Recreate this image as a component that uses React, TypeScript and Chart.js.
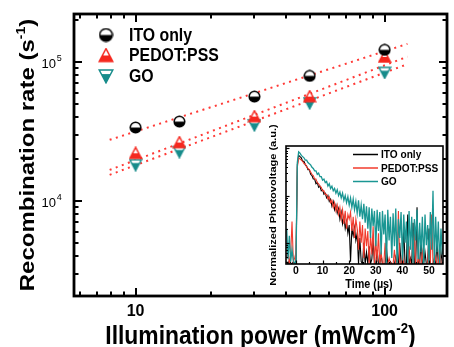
import React, { useEffect, useRef } from 'react';
import { Chart, registerables } from 'chart.js';

Chart.register(...registerables);

// ---------- main plot data ----------
const POWER = [10, 15, 30, 50, 100];
const ITO_RATE = [33700, 37200, 56300, 79300, 122000];
const PEDOT_RATE = [22000, 26300, 40400, 56300, 108600];
const GO_RATE = [18200, 22600, 35200, 50700, 84000];
const FIT_POWER = [7.87, 123.5];
const ITO_FIT = [27500, 134700];
const PEDOT_FIT = [16700, 109000];
const GO_FIT = [15400, 96300];
const SERIES_NAMES = ['ITO only', 'PEDOT:PSS', 'GO'];
const X_TICK_VALUES = [10, 100];
const X_TICK_LABELS = ['10', '100'];
const Y_TICK_VALUES = [1e4, 1e5];
const Y_TICK_EXPONENTS = ['4', '5'];

// ---------- inset data (time in µs, normalized photovoltage) ----------
const TIME = [
  -3.5, -3, -2.5, -2, -1.5, -1, -0.5, 0, 0.5, 1,
  1.5, 2, 2.5, 3, 3.5, 4, 4.5, 5, 5.5, 6,
  6.5, 7, 7.5, 8, 8.5, 9, 9.5, 10, 10.5, 11,
  11.5, 12, 12.5, 13, 13.5, 14, 14.5, 15, 15.5, 16,
  16.5, 17, 17.5, 18, 18.5, 19, 19.5, 20, 20.5, 21,
  21.5, 22, 22.5, 23, 23.5, 24, 24.5, 25, 25.5, 26,
  26.5, 27, 27.5, 28, 28.5, 29, 29.5, 30, 30.5, 31,
  31.5, 32, 32.5, 33, 33.5, 34, 34.5, 35, 35.5, 36,
  36.5, 37, 37.5, 38, 38.5, 39, 39.5, 40, 40.5, 41,
  41.5, 42, 42.5, 43, 43.5, 44, 44.5, 45, 45.5, 46,
  46.5, 47, 47.5, 48, 48.5, 49, 49.5, 50, 50.5, 51,
  51.5, 52, 52.5, 53, 53.5, 54, 54.5, 55,
];
const ITO_PV = [
  0.02, 0.0, 0.03, 0.01, 0.0, 0.02, 0.0, 0.03, 0.84, 0.92,
  0.91, 0.90, 0.87, 0.87, 0.84, 0.83, 0.80, 0.80, 0.76, 0.75,
  0.72, 0.72, 0.68, 0.69, 0.65, 0.66, 0.62, 0.63, 0.59, 0.60,
  0.56, 0.58, 0.53, 0.55, 0.49, 0.53, 0.46, 0.50, 0.43, 0.47,
  0.38, 0.44, 0.34, 0.40, 0.30, 0.36, 0.26, 0.33, 0.02, 0.30,
  0.24, 0.31, 0.20, 0.26, 0.0, 0.22, 0.02, 0.0, 0.18, 0.0,
  0.10, 0.0, 0.15, 0.0, 0.04, 0.20, 0.0, 0.0, 0.12, 0.0,
  0.0, 0.08, 0.0, 0.0, 0.0, 0.14, 0.0, 0.0, 0.02, 0.0,
  0.0, 0.0, 0.06, 0.0, 0.0, 0.18, 0.0, 0.0, 0.30, 0.0,
  0.0, 0.42, 0.0, 0.05, 0.0, 0.35, 0.0, 0.0, 0.48, 0.0,
  0.0, 0.22, 0.0, 0.0, 0.10, 0.0, 0.0, 0.30, 0.0, 0.0,
  0.0, 0.05, 0.0, 0.20, 0.0, 0.0, 0.10, 0.0,
];
const PEDOT_PV = [
  0.05, 0.12, 0.0, 0.08, 0.36, 0.02, 0.05, 0.10, 0.82, 0.90,
  0.89, 0.88, 0.87, 0.85, 0.85, 0.82, 0.81, 0.80, 0.78, 0.76,
  0.75, 0.72, 0.72, 0.69, 0.68, 0.66, 0.65, 0.62, 0.62, 0.59,
  0.59, 0.55, 0.57, 0.52, 0.54, 0.48, 0.52, 0.45, 0.50, 0.42,
  0.48, 0.38, 0.46, 0.34, 0.45, 0.30, 0.42, 0.38, 0.44, 0.28,
  0.40, 0.22, 0.38, 0.30, 0.12, 0.36, 0.18, 0.33, 0.05, 0.30,
  0.15, 0.28, 0.0, 0.25, 0.08, 0.32, 0.0, 0.20, 0.02, 0.26,
  0.0, 0.10, 0.0, 0.0, 0.18, 0.0, 0.0, 0.05, 0.0, 0.0,
  0.0, 0.12, 0.0, 0.0, 0.45, 0.0, 0.0, 0.08, 0.0, 0.0,
  0.0, 0.0, 0.15, 0.0, 0.0, 0.0, 0.28, 0.0, 0.0, 0.05,
  0.0, 0.0, 0.10, 0.0, 0.0, 0.0, 0.0, 0.20, 0.0, 0.42,
  0.0, 0.0, 0.06, 0.0, 0.0, 0.15, 0.0, 0.0,
];
const GO_PV = [
  0.30, 0.04, 0.24, 0.02, 0.12, 0.03, 0.0, 0.02, 0.86, 0.95,
  0.94, 0.92, 0.91, 0.90, 0.88, 0.88, 0.86, 0.85, 0.84, 0.82,
  0.81, 0.79, 0.79, 0.76, 0.77, 0.74, 0.74, 0.71, 0.72, 0.69,
  0.70, 0.66, 0.68, 0.64, 0.66, 0.62, 0.64, 0.60, 0.63, 0.58,
  0.61, 0.56, 0.60, 0.54, 0.58, 0.52, 0.57, 0.50, 0.56, 0.48,
  0.55, 0.46, 0.53, 0.43, 0.54, 0.40, 0.50, 0.38, 0.51, 0.35,
  0.49, 0.30, 0.48, 0.22, 0.47, 0.32, 0.45, 0.15, 0.46, 0.28,
  0.44, 0.08, 0.45, 0.25, 0.42, 0.0, 0.46, 0.20, 0.40, 0.05,
  0.43, 0.15, 0.47, 0.0, 0.38, 0.22, 0.44, 0.02, 0.42, 0.18,
  0.36, 0.0, 0.45, 0.12, 0.40, 0.0, 0.38, 0.20, 0.46, 0.04,
  0.35, 0.10, 0.40, 0.0, 0.42, 0.16, 0.33, 0.0, 0.44, 0.12,
  0.62, 0.0, 0.40, 0.10, 0.36, 0.0, 0.30, 0.08,
];
const INSET_X_TICKS = [0, 10, 20, 30, 40, 50];
const INSET_X_LABELS = ['0', '10', '20', '30', '40', '50'];

// ---------- styles ----------
const FONT = "'Liberation Sans', Arial, sans-serif";
const RED = '#f5281f';
const TEAL = '#178c8b';
const FIT_RED = '#ff3a36';
const INSET_RED = '#f23b2d';
const INSET_TEAL = '#1a9693';
const SX = 0.88;

type Piece = { t: string; size: number; raise?: number };

function drawPieces(ctx: CanvasRenderingContext2D, pieces: Piece[], cx: number, baseY: number, weight: string, sx: number, rotate: boolean) {
  ctx.save();
  ctx.translate(rotate ? baseY : cx, rotate ? cx : baseY);
  if (rotate) {
    ctx.rotate(-Math.PI / 2);
    ctx.scale(1, sx);
  } else {
    ctx.scale(sx, 1);
  }
  let total = 0;
  const widths = pieces.map((p) => {
    ctx.font = `${weight} ${p.size}px ${FONT}`;
    const w = ctx.measureText(p.t).width;
    total += w;
    return w;
  });
  let x = -total / 2;
  ctx.fillStyle = '#000';
  ctx.textBaseline = 'alphabetic';
  ctx.textAlign = 'left';
  pieces.forEach((p, i) => {
    ctx.font = `${weight} ${p.size}px ${FONT}`;
    ctx.fillText(p.t, x, -(p.raise || 0));
    x += widths[i];
  });
  ctx.restore();
}

function drawText(ctx: CanvasRenderingContext2D, s: string, x: number, y: number, font: string, align: CanvasTextAlign, sx: number, baseline: CanvasTextBaseline = 'middle') {
  ctx.save();
  ctx.translate(x, y);
  ctx.scale(sx, 1);
  ctx.font = font;
  ctx.textAlign = align;
  ctx.textBaseline = baseline;
  ctx.fillStyle = '#000';
  ctx.fillText(s, 0, 0);
  ctx.restore();
}

function makeMarker(kind: 'circle' | 'up' | 'down', size: number, color: string): HTMLCanvasElement {
  const c = document.createElement('canvas');
  c.width = size;
  c.height = size;
  const g = c.getContext('2d') as CanvasRenderingContext2D;
  const s = size;
  const m = 1.2;
  const path = () => {
    g.beginPath();
    if (kind === 'circle') {
      g.arc(s / 2, s / 2, s / 2 - m, 0, Math.PI * 2);
    } else if (kind === 'up') {
      g.moveTo(s / 2, m);
      g.lineTo(s - m, s - m - 0.8);
      g.lineTo(m, s - m - 0.8);
      g.closePath();
    } else {
      g.moveTo(m, m + 0.8);
      g.lineTo(s - m, m + 0.8);
      g.lineTo(s / 2, s - m);
      g.closePath();
    }
  };
  const split = kind === 'circle' ? s / 2 : kind === 'up' ? s * 0.5 : s * 0.38;
  path();
  g.fillStyle = '#fff';
  g.fill();
  g.save();
  path();
  g.clip();
  g.fillStyle = color;
  g.fillRect(0, split, s, s);
  g.restore();
  path();
  g.lineWidth = 1.5;
  g.strokeStyle = color;
  g.stroke();
  return c;
}

export default function App() {
  const mainRef = useRef<HTMLCanvasElement | null>(null);
  const insetRef = useRef<HTMLCanvasElement | null>(null);

  useEffect(() => {
    if (!mainRef.current || !insetRef.current) return;
    const itoImg = makeMarker('circle', 13, '#000');
    const pedotImg = makeMarker('up', 14, RED);
    const goImg = makeMarker('down', 14, TEAL);
    const legendImgs = [makeMarker('circle', 15, '#000'), makeMarker('up', 16, RED), makeMarker('down', 16, TEAL)];

    const pts = (ys: number[]) => POWER.map((x, i) => ({ x, y: ys[i] }));
    const fit = (ys: number[]) => FIT_POWER.map((x, i) => ({ x, y: ys[i] }));

    const mainDecor = {
      id: 'mainDecor',
      afterDraw(chart: any) {
        const { ctx, chartArea: a } = chart;
        const xs = chart.scales.x;
        const ys = chart.scales.y;
        ctx.save();
        ctx.strokeStyle = '#000';
        ctx.lineWidth = 2;
        ctx.lineCap = 'butt';
        for (let d = 0; d <= 2; d++) {
          for (let k = 1; k <= 9; k++) {
            const v = k * Math.pow(10, d);
            if (v < xs.min || v > xs.max) continue;
            const px = Math.round(xs.getPixelForValue(v));
            const len = k === 1 ? 8 : 4.5;
            ctx.beginPath();
            ctx.moveTo(px, a.bottom);
            ctx.lineTo(px, a.bottom - len);
            ctx.moveTo(px, a.top);
            ctx.lineTo(px, a.top + len);
            ctx.stroke();
          }
        }
        for (let d = 3; d <= 5; d++) {
          for (let k = 1; k <= 9; k++) {
            const v = k * Math.pow(10, d);
            if (v < ys.min || v > ys.max) continue;
            const py = Math.round(ys.getPixelForValue(v));
            const len = k === 1 ? 8 : 4.5;
            ctx.beginPath();
            ctx.moveTo(a.left, py);
            ctx.lineTo(a.left + len, py);
            ctx.moveTo(a.right, py);
            ctx.lineTo(a.right - len, py);
            ctx.stroke();
          }
        }
        ctx.lineWidth = 2.8;
        ctx.strokeRect(a.left, a.top, a.right - a.left, a.bottom - a.top);
        ctx.restore();

        X_TICK_VALUES.forEach((v, i) => {
          drawText(ctx, X_TICK_LABELS[i], xs.getPixelForValue(v), 312, `bold 16px ${FONT}`, 'center', 1);
        });
        Y_TICK_VALUES.forEach((v, i) => {
          const py = ys.getPixelForValue(v);
          drawText(ctx, '10', 56, py + 2.5, `13px ${FONT}`, 'right', 1);
          drawText(ctx, Y_TICK_EXPONENTS[i], 56.8, py - 3.5, `9px ${FONT}`, 'left', 1);
        });

        drawPieces(ctx, [
          { t: 'Illumination power (mWcm', size: 26 },
          { t: '-2', size: 15, raise: 11 },
          { t: ')', size: 26 },
        ], (a.left + a.right) / 2, 344, 'bold', SX, false);
        drawPieces(ctx, [
          { t: 'Recombination rate (s', size: 24 },
          { t: '-1', size: 14, raise: 10 },
          { t: ')', size: 24 },
        ], (a.top + a.bottom) / 2, 33.5, 'bold', SX, true);

        const rows = [35, 55.5, 76];
        SERIES_NAMES.forEach((name, i) => {
          const img = legendImgs[i];
          ctx.drawImage(img, 106 - img.width / 2, rows[i] - img.height / 2);
          drawText(ctx, name, 129, rows[i] + 1, `bold 18px ${FONT}`, 'left', SX);
        });
      },
    };

    const main = new Chart(mainRef.current, {
      type: 'scatter',
      data: {
        datasets: [
          { label: SERIES_NAMES[0], data: pts(ITO_RATE), pointStyle: itoImg as any, pointRadius: 6, order: 0 },
          { label: SERIES_NAMES[1], data: pts(PEDOT_RATE), pointStyle: pedotImg as any, pointRadius: 6, order: 0 },
          { label: SERIES_NAMES[2], data: pts(GO_RATE), pointStyle: goImg as any, pointRadius: 6, order: 0 },
          { label: 'fit1', data: fit(ITO_FIT), showLine: true, pointRadius: 0, borderColor: FIT_RED, borderWidth: 2, borderDash: [2, 4.5], order: 1 },
          { label: 'fit2', data: fit(PEDOT_FIT), showLine: true, pointRadius: 0, borderColor: FIT_RED, borderWidth: 2, borderDash: [2, 4.5], order: 1 },
          { label: 'fit3', data: fit(GO_FIT), showLine: true, pointRadius: 0, borderColor: FIT_RED, borderWidth: 2, borderDash: [2, 4.5], order: 1 },
        ],
      },
      options: {
        animation: false,
        responsive: false,
        layout: { padding: { left: 74, top: 14, right: 4, bottom: 51 } },
        scales: {
          x: { type: 'logarithmic', min: 5.66, max: 178, display: false },
          y: { type: 'logarithmic', min: 2070, max: 221000, display: false },
        },
        plugins: { legend: { display: false }, tooltip: { enabled: false } },
        events: [],
      },
      plugins: [mainDecor],
    });

    const insetDecor = {
      id: 'insetDecor',
      beforeDatasetsDraw(chart: any) {
        const { ctx, chartArea: a } = chart;
        ctx.save();
        ctx.fillStyle = '#fff';
        ctx.fillRect(a.left, a.top, a.right - a.left, a.bottom - a.top);
        ctx.restore();
      },
      afterDraw(chart: any) {
        const { ctx, chartArea: a } = chart;
        const xs = chart.scales.x;
        ctx.save();
        ctx.strokeStyle = '#000';
        ctx.lineWidth = 1.2;
        for (let v = 0; v <= 55; v += 5) {
          const px = Math.round(xs.getPixelForValue(v)) + 0.5;
          const len = v % 10 === 0 ? 3.5 : 2;
          ctx.beginPath();
          ctx.moveTo(px, a.bottom);
          ctx.lineTo(px, a.bottom - len);
          ctx.stroke();
        }
        for (let d = -3; d <= 0; d++) {
          for (let k = 1; k <= 9; k++) {
            const f = (Math.log10(k) + d + 2.45) / 2.5;
            if (f < 0 || f > 1) continue;
            const py = Math.round(a.bottom - f * (a.bottom - a.top)) + 0.5;
            const len = k === 1 ? 3.5 : 2;
            ctx.beginPath();
            ctx.moveTo(a.left, py);
            ctx.lineTo(a.left + len, py);
            ctx.stroke();
          }
        }
        ctx.lineWidth = 1.6;
        ctx.strokeRect(a.left, a.top, a.right - a.left, a.bottom - a.top);
        ctx.restore();

        INSET_X_TICKS.forEach((v, i) => {
          drawText(ctx, INSET_X_LABELS[i], xs.getPixelForValue(v), 161, `bold 11px ${FONT}`, 'center', 0.95);
        });
        drawPieces(ctx, [{ t: 'Time (\u00b5s)', size: 12 }], 129, 178, 'bold', 0.9, false);
        drawPieces(ctx, [{ t: 'Normalized Photovoltage (a.u.)', size: 11 }], 95, 36, 'bold', SX, true);

        const rows = [44.5, 58, 71.5];
        const cols = ['#000', INSET_RED, INSET_TEAL];
        SERIES_NAMES.forEach((name, i) => {
          ctx.save();
          ctx.strokeStyle = cols[i];
          ctx.lineWidth = 1.5;
          ctx.beginPath();
          ctx.moveTo(113, rows[i]);
          ctx.lineTo(138, rows[i]);
          ctx.stroke();
          ctx.restore();
          drawText(ctx, name, 141, rows[i] + 0.5, `bold 11.5px ${FONT}`, 'left', SX);
        });
      },
    };

    const series = (ys: number[]) => TIME.map((t, i) => ({ x: t, y: ys[i] }));
    const inset = new Chart(insetRef.current, {
      type: 'scatter',
      data: {
        datasets: [
          { label: SERIES_NAMES[0], data: series(ITO_PV), showLine: true, pointRadius: 0, borderColor: '#000', borderWidth: 1.1, order: 3 },
          { label: SERIES_NAMES[1], data: series(PEDOT_PV), showLine: true, pointRadius: 0, borderColor: INSET_RED, borderWidth: 1.1, order: 2 },
          { label: SERIES_NAMES[2], data: series(GO_PV), showLine: true, pointRadius: 0, borderColor: INSET_TEAL, borderWidth: 1.3, order: 1 },
        ],
      },
      options: {
        animation: false,
        responsive: false,
        layout: { padding: { left: 46, top: 36, right: 11, bottom: 46 } },
        scales: {
          x: { type: 'linear', min: -3.76, max: 55.26, display: false },
          y: { type: 'linear', min: 0, max: 1, display: false },
        },
        plugins: { legend: { display: false }, tooltip: { enabled: false } },
        events: [],
      },
      plugins: [insetDecor],
    });

    return () => {
      main.destroy();
      inset.destroy();
    };
  }, []);

  return (
    <div style={{ position: 'fixed', left: 0, top: 0, width: 454, height: 347, background: '#fff' }}>
      <canvas ref={mainRef} width={454} height={347} style={{ position: 'absolute', left: 0, top: 0, width: 454, height: 347 }} />
      <canvas ref={insetRef} width={214} height={200} style={{ position: 'absolute', left: 240, top: 110, width: 214, height: 200 }} />
    </div>
  );
}
